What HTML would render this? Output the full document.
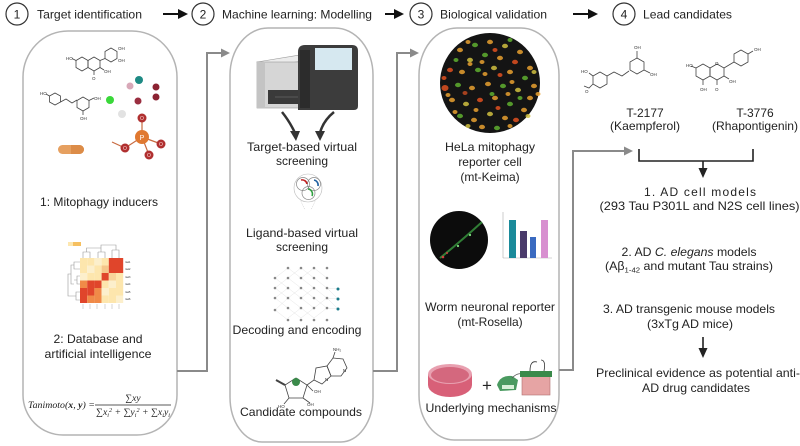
<!DOCTYPE html>
<html>
<head>
<meta charset="utf-8">
<style>
html,body{margin:0;padding:0;background:#fff;}
svg{display:block;}
text{font-family:"Liberation Sans",Arial,sans-serif;fill:#222;}
.t{font-size:12px;}
.sm{font-size:4.5px;fill:#333;}
.mol{fill:none;stroke:#444;stroke-width:0.8;}
</style>
</head>
<body>
<svg width="800" height="446" viewBox="0 0 800 446" xmlns="http://www.w3.org/2000/svg">
<rect width="800" height="446" fill="#fff"/>

<!-- ===== Header ===== -->
<g stroke="#333" stroke-width="1.2" fill="none">
  <circle cx="17" cy="14" r="11"/>
  <circle cx="203" cy="14" r="11"/>
  <circle cx="421" cy="14" r="11"/>
  <circle cx="624" cy="14" r="11"/>
</g>
<text x="17" y="18.5" class="t" text-anchor="middle">1</text>
<text x="203" y="18.5" class="t" text-anchor="middle">2</text>
<text x="421" y="18.5" class="t" text-anchor="middle">3</text>
<text x="624" y="18.5" class="t" text-anchor="middle">4</text>
<text x="37" y="18.5" class="t" textLength="105" lengthAdjust="spacingAndGlyphs">Target identification</text>
<text x="222" y="18.5" class="t" textLength="150" lengthAdjust="spacingAndGlyphs">Machine learning: Modelling</text>
<text x="440" y="18.5" class="t" textLength="107" lengthAdjust="spacingAndGlyphs">Biological validation</text>
<text x="643" y="18.5" class="t" textLength="89" lengthAdjust="spacingAndGlyphs">Lead candidates</text>
<g stroke="#111" stroke-width="2">
  <line x1="163" y1="14" x2="180" y2="14"/>
  <line x1="385" y1="14" x2="396" y2="14"/>
  <line x1="573" y1="14" x2="590" y2="14"/>
</g>
<g fill="#111">
  <polygon points="178,9 188,14 178,19"/>
  <polygon points="394,9 404,14 394,19"/>
  <polygon points="588,9 598,14 588,19"/>
</g>

<!-- ===== Column outlines ===== -->
<g fill="none" stroke="#b4b4b4" stroke-width="1.5">
  <path d="M23,77 A45,46 0 0 1 68,31 L132,31 A45,46 0 0 1 177,77 L177,395 A40,40 0 0 1 137,435 L63,435 A40,40 0 0 1 23,395 Z"/>
  <path d="M230,75 A38,47 0 0 1 268,28 L335,28 A38,47 0 0 1 373,75 L373,397 A32,45 0 0 1 341,442 L262,442 A32,45 0 0 1 230,397 Z"/>
  <path d="M419,75 A38,47 0 0 1 457,28 L521,28 A38,47 0 0 1 559,75 L559,395 A35,45 0 0 1 524,440 L454,440 A35,45 0 0 1 419,395 Z"/>
</g>

<!-- ===== Connectors ===== -->
<g fill="none" stroke="#8a8a8a" stroke-width="2">
  <path d="M177,371 H207 V53 H222"/>
  <path d="M373,371 H397 V53 H411"/>
  <path d="M559,370 H573 V151 H625"/>
</g>
<g fill="#8a8a8a">
  <polygon points="221,48.5 230,53 221,57.5"/>
  <polygon points="410,48.5 419,53 410,57.5"/>
  <polygon points="624,146.5 633,151 624,155.5"/>
</g>

<!-- ===== Column 1 ===== -->
<g class="mol">
  <polygon points="82,57 88,60.5 88,67.5 82,71 76,67.5 76,60.5"/>
  <polygon points="94,57 100,60.5 100,67.5 94,71 88,67.5 88,60.5"/>
  <polygon points="111,48 117,51.5 117,58.5 111,62 105,58.5 105,51.5"/>
  <line x1="100" y1="60.5" x2="105" y2="58.5"/>
  <line x1="94" y1="71" x2="94" y2="75"/>
  <line x1="100" y1="67.5" x2="104" y2="70"/>
  <line x1="76" y1="60.5" x2="72" y2="58.5"/>
</g>
<text x="66" y="60" class="sm">HO</text>
<text x="118" y="50" class="sm">OH</text>
<text x="118" y="62" class="sm">OH</text>
<text x="104" y="73" class="sm">OH</text>
<text x="92" y="80" class="sm">O</text>
<g class="mol">
  <polygon points="55,93 60.5,96 60.5,102 55,105 49.5,102 49.5,96"/>
  <polyline points="60.5,102 66,99 72,103 77,100"/>
  <polygon points="83,97 89,100.5 89,107.5 83,111 77,107.5 77,100.5"/>
  <line x1="89" y1="100.5" x2="94" y2="98"/>
  <line x1="83" y1="111" x2="83" y2="115"/>
  <line x1="49.5" y1="96" x2="46" y2="94"/>
</g>
<text x="40" y="95" class="sm">HO</text>
<text x="94" y="100" class="sm">OH</text>
<text x="80" y="120" class="sm">OH</text>
<g stroke="#c86a40" stroke-width="1.2">
  <line x1="142" y1="137" x2="142" y2="118"/>
  <line x1="142" y1="137" x2="161" y2="144"/>
  <line x1="142" y1="137" x2="149" y2="155"/>
  <line x1="142" y1="137" x2="125" y2="148"/>
  <line x1="125" y1="148" x2="112" y2="142"/>
</g>
<circle cx="139" cy="80" r="4" fill="#1e8a84"/>
<circle cx="130" cy="86" r="3.5" fill="#d8a8b8"/>
<circle cx="156" cy="87" r="3.5" fill="#8b2232"/>
<circle cx="156" cy="97" r="3.5" fill="#8b2232"/>
<circle cx="138" cy="101" r="3.5" fill="#9a2e40"/>
<circle cx="110" cy="100" r="4" fill="#3ad83a"/>
<circle cx="122" cy="114" r="4" fill="#e2e2e2"/>
<circle cx="142" cy="118" r="4.5" fill="#b03030"/>
<circle cx="142" cy="137" r="7" fill="#e07830"/>
<circle cx="161" cy="144" r="4.5" fill="#b03030"/>
<circle cx="149" cy="155" r="4.5" fill="#b03030"/>
<circle cx="125" cy="148" r="4.5" fill="#b03030"/>
<text x="142" y="140" font-size="7" text-anchor="middle" style="fill:#fff">P</text>
<text x="142" y="120" font-size="5" text-anchor="middle" style="fill:#fdd">O</text>
<text x="161" y="146" font-size="5" text-anchor="middle" style="fill:#fdd">O</text>
<text x="149" y="157" font-size="5" text-anchor="middle" style="fill:#fdd">O</text>
<text x="125" y="150" font-size="5" text-anchor="middle" style="fill:#fdd">O</text>
<rect x="58" y="145" width="26" height="9" rx="4.5" fill="#e6a060"/>
<rect x="71" y="145" width="13" height="9" rx="4.5" fill="#dc8c48"/>
<rect x="71" y="145" width="4" height="9" fill="#dc8c48"/>
<text x="99" y="206" class="t" text-anchor="middle" textLength="118" lengthAdjust="spacingAndGlyphs">1: Mitophagy inducers</text>

<!-- heatmap -->
<rect x="68" y="242" width="13" height="4" fill="#f6c060"/>
<rect x="68" y="242" width="5" height="4" fill="#fde7b0"/>
<g fill="none" stroke="#999" stroke-width="0.6">
  <path d="M83,258 V252 H90 V258 M86.5,252 V248 H101 V252 M98,252 V258 M98,252 H105 V258 M101,248 V245 H116 V250 M112,250 V258 M112,250 H119 V258"/>
  <path d="M80,262 H74 V269 H80 M74,265 H71 V284 H74 M74,280 H77 V276 H80 M77,280 V284 H80 M71,274 H68 V296 H71 M71,296 H76 V292 H80 M76,296 V300 H80"/>
</g>
<g>
  <rect x="80" y="258" width="7.2" height="7.5" fill="#fde6ad"/><rect x="87.2" y="258" width="7.2" height="7.5" fill="#fde6ad"/><rect x="94.4" y="258" width="7.2" height="7.5" fill="#fcefcc"/><rect x="101.6" y="258" width="7.2" height="7.5" fill="#fde6ad"/><rect x="108.8" y="258" width="7.2" height="7.5" fill="#e0452b"/><rect x="116" y="258" width="7.2" height="7.5" fill="#e0452b"/>
  <rect x="80" y="265.5" width="7.2" height="7.5" fill="#fde6ad"/><rect x="87.2" y="265.5" width="7.2" height="7.5" fill="#fcefcc"/><rect x="94.4" y="265.5" width="7.2" height="7.5" fill="#fde6ad"/><rect x="101.6" y="265.5" width="7.2" height="7.5" fill="#f5c68a"/><rect x="108.8" y="265.5" width="7.2" height="7.5" fill="#e0452b"/><rect x="116" y="265.5" width="7.2" height="7.5" fill="#e0452b"/>
  <rect x="80" y="273" width="7.2" height="7.5" fill="#fcefcc"/><rect x="87.2" y="273" width="7.2" height="7.5" fill="#fde6ad"/><rect x="94.4" y="273" width="7.2" height="7.5" fill="#fde6ad"/><rect x="101.6" y="273" width="7.2" height="7.5" fill="#e0452b"/><rect x="108.8" y="273" width="7.2" height="7.5" fill="#f8d49a"/><rect x="116" y="273" width="7.2" height="7.5" fill="#fde6ad"/>
  <rect x="80" y="280.5" width="7.2" height="7.5" fill="#f08a48"/><rect x="87.2" y="280.5" width="7.2" height="7.5" fill="#e0452b"/><rect x="94.4" y="280.5" width="7.2" height="7.5" fill="#e0452b"/><rect x="101.6" y="280.5" width="7.2" height="7.5" fill="#fde6ad"/><rect x="108.8" y="280.5" width="7.2" height="7.5" fill="#fcefcc"/><rect x="116" y="280.5" width="7.2" height="7.5" fill="#fde6ad"/>
  <rect x="80" y="288" width="7.2" height="7.5" fill="#e0452b"/><rect x="87.2" y="288" width="7.2" height="7.5" fill="#e0452b"/><rect x="94.4" y="288" width="7.2" height="7.5" fill="#f08a48"/><rect x="101.6" y="288" width="7.2" height="7.5" fill="#fcefcc"/><rect x="108.8" y="288" width="7.2" height="7.5" fill="#fde6ad"/><rect x="116" y="288" width="7.2" height="7.5" fill="#fde6ad"/>
  <rect x="80" y="295.5" width="7.2" height="7.5" fill="#e0452b"/><rect x="87.2" y="295.5" width="7.2" height="7.5" fill="#f08a48"/><rect x="94.4" y="295.5" width="7.2" height="7.5" fill="#f08a48"/><rect x="101.6" y="295.5" width="7.2" height="7.5" fill="#fde6ad"/><rect x="108.8" y="295.5" width="7.2" height="7.5" fill="#fde6ad"/><rect x="116" y="295.5" width="7.2" height="7.5" fill="#fcefcc"/>
</g>
<g fill="#aaa" font-size="2.5">
  <text x="125" y="263">row1</text><text x="125" y="270">row2</text><text x="125" y="278">row3</text>
  <text x="125" y="285">row4</text><text x="125" y="293">row5</text><text x="125" y="300">row6</text>
</g>
<g stroke="#aaa" stroke-width="0.5">
  <line x1="83" y1="304" x2="83" y2="309"/><line x1="90" y1="304" x2="90" y2="309"/><line x1="97" y1="304" x2="97" y2="309"/>
  <line x1="105" y1="304" x2="105" y2="309"/><line x1="112" y1="304" x2="112" y2="309"/><line x1="119" y1="304" x2="119" y2="309"/>
</g>
<text x="98" y="343" class="t" text-anchor="middle" textLength="89" lengthAdjust="spacingAndGlyphs">2: Database and</text>
<text x="98" y="358" class="t" text-anchor="middle" textLength="107" lengthAdjust="spacingAndGlyphs">artificial intelligence</text>

<!-- formula -->
<g font-style="italic" font-size="9.5">
  <text x="28" y="408" style="font-family:'Liberation Serif',serif" textLength="67" lengthAdjust="spacingAndGlyphs">Tanimoto(<tspan font-weight="bold">x</tspan>, <tspan font-weight="bold">y</tspan>) =</text>
  <text x="133" y="401" text-anchor="middle" style="font-family:'Liberation Serif',serif">∑<tspan>xy</tspan></text>
  <text x="96" y="415" style="font-family:'Liberation Serif',serif" textLength="74" lengthAdjust="spacingAndGlyphs">∑x<tspan font-size="6" dy="2">i</tspan><tspan font-size="6" dy="-5">2</tspan><tspan dy="3"> + ∑y</tspan><tspan font-size="6" dy="2">i</tspan><tspan font-size="6" dy="-5">2</tspan><tspan dy="3"> + ∑x</tspan><tspan font-size="6" dy="2">i</tspan><tspan dy="-2">y</tspan><tspan font-size="6" dy="2">i</tspan></text>
</g>
<line x1="95" y1="405" x2="171" y2="405" stroke="#222" stroke-width="0.8"/>

<!-- ===== Column 2 ===== -->
<polygon points="257,62 300,55 308,60 265,67" fill="#ececec" stroke="#999" stroke-width="0.6"/>
<rect x="257" y="62" width="50" height="46" fill="#d6d6d6" stroke="#999" stroke-width="0.6"/>
<rect x="257" y="62" width="8" height="46" fill="#c4c4c4"/>
<rect x="268" y="90" width="40" height="14" fill="#3a3a3a"/>
<line x1="275" y1="97" x2="300" y2="97" stroke="#666" stroke-width="0.8"/>
<path d="M298,52 Q298,45 305,45 L352,45 Q358,45 358,51 L358,106 Q358,110 354,110 L298,110 Z" fill="#3c3c3c"/>
<rect x="300" y="50" width="10" height="58" fill="#2c2c2c"/>
<rect x="315" y="48" width="37" height="22" fill="#d6e8f0"/>
<g fill="none" stroke="#333" stroke-width="2.5">
  <path d="M282,112 Q290,122 295,133"/>
  <path d="M334,112 Q323,121 320,133"/>
</g>
<polygon points="290,131 300,131 296,141" fill="#333"/>
<polygon points="315,131 325,131 320,141" fill="#333"/>
<text x="302" y="151" class="t" text-anchor="middle" textLength="110" lengthAdjust="spacingAndGlyphs">Target-based virtual</text>
<text x="302" y="165" class="t" text-anchor="middle">screening</text>
<circle cx="308" cy="188" r="14" fill="none" stroke="#bbb" stroke-width="0.6"/>
<g fill="none" stroke-width="0.7" stroke="#888">
  <circle cx="303" cy="184" r="6.5"/>
  <circle cx="314" cy="184" r="6.5"/>
  <circle cx="308.5" cy="193" r="6.5"/>
</g>
<path d="M301,180 A5,5 0 0 1 307,184" fill="none" stroke="#c02020" stroke-width="1.6"/>
<path d="M314,180 A5,5 0 0 1 318,186" fill="none" stroke="#2060a0" stroke-width="1.6"/>
<path d="M308,189 A5,5 0 0 1 312,196" fill="none" stroke="#30a040" stroke-width="1.6"/>
<path d="M300,199 L305,210 M316,199 L311,210" stroke="#bbb" stroke-width="0.5" stroke-dasharray="1,1"/>
<text x="302" y="237" class="t" text-anchor="middle" textLength="112" lengthAdjust="spacingAndGlyphs">Ligand-based virtual</text>
<text x="302" y="251" class="t" text-anchor="middle">screening</text>
<g stroke="#ddd" stroke-width="0.4">
  <path d="M275,278 L288,268 M275,278 L288,288 M275,288 L288,278 M275,288 L288,298 M275,298 L288,288 M275,298 L288,308 M275,310 L288,298 M275,310 L288,320"/>
  <path d="M288,268 L301,278 M288,278 L301,268 M288,288 L301,298 M288,298 L301,288 M288,308 L301,318 M288,318 L301,308 M288,278 L301,288 M288,298 L301,308"/>
  <path d="M301,268 L314,278 M301,278 L314,268 M301,288 L314,298 M301,298 L314,288 M301,308 L314,318 M301,318 L314,308 M301,278 L314,288 M301,298 L314,308"/>
  <path d="M314,278 L327,288 M314,288 L327,298 M314,298 L327,308 M314,308 L327,298 M314,268 L327,278 M314,318 L327,308"/>
  <path d="M327,288 L338,289 M327,298 L338,299 M327,308 L338,309 M327,288 L338,299 M327,298 L338,309"/>
</g>
<g fill="#888">
  <circle cx="275" cy="278" r="1.3"/><circle cx="275" cy="288" r="1.3"/><circle cx="275" cy="298" r="1.3"/><circle cx="275" cy="310" r="1.3"/>
  <circle cx="288" cy="268" r="1.3"/><circle cx="288" cy="278" r="1.3"/><circle cx="288" cy="288" r="1.3"/><circle cx="288" cy="298" r="1.3"/><circle cx="288" cy="308" r="1.3"/><circle cx="288" cy="320" r="1.3"/>
  <circle cx="301" cy="268" r="1.3"/><circle cx="301" cy="278" r="1.3"/><circle cx="301" cy="288" r="1.3"/><circle cx="301" cy="298" r="1.3"/><circle cx="301" cy="308" r="1.3"/><circle cx="301" cy="320" r="1.3"/>
  <circle cx="314" cy="268" r="1.3"/><circle cx="314" cy="278" r="1.3"/><circle cx="314" cy="288" r="1.3"/><circle cx="314" cy="298" r="1.3"/><circle cx="314" cy="308" r="1.3"/><circle cx="314" cy="320" r="1.3"/>
  <circle cx="327" cy="268" r="1.3"/><circle cx="327" cy="278" r="1.3"/><circle cx="327" cy="288" r="1.3"/><circle cx="327" cy="298" r="1.3"/><circle cx="327" cy="308" r="1.3"/><circle cx="327" cy="320" r="1.3"/>
</g>
<g fill="#1a7a8a">
  <circle cx="338" cy="289" r="1.5"/><circle cx="338" cy="299" r="1.5"/><circle cx="338" cy="309" r="1.5"/>
</g>
<text x="297" y="334" class="t" text-anchor="middle" textLength="129" lengthAdjust="spacingAndGlyphs">Decoding and encoding</text>
<g class="mol" stroke-width="0.9">
  <polygon points="296,378 307,385 303,398 289,398 285,385"/>
  <line x1="285" y1="385" x2="276" y2="380" stroke-width="2"/>
  <line x1="307" y1="385" x2="314" y2="380"/>
  <polygon points="314,380 316,368 327,366 331,376 322,384"/>
  <polygon points="327,366 333,358 343,359 347,368 341,376 331,376"/>
  <line x1="333" y1="358" x2="335" y2="352"/>
  <line x1="303" y1="398" x2="310" y2="403"/>
  <line x1="289" y1="398" x2="284" y2="404"/>
  <line x1="307" y1="385" x2="313" y2="391"/>
</g>
<circle cx="296" cy="382" r="4" fill="#3a8a4a"/>
<text x="333" y="351" class="sm">NH₂</text>
<text x="314" y="393" class="sm">OH</text>
<text x="278" y="408" class="sm">HO</text>
<text x="307" y="406" class="sm">OH</text>
<text x="343" y="372" class="sm">N</text>
<text x="325" y="381" class="sm">N</text>
<text x="301" y="416" class="t" text-anchor="middle" textLength="122" lengthAdjust="spacingAndGlyphs">Candidate compounds</text>

<!-- ===== Column 3 ===== -->
<circle cx="490" cy="83" r="50" fill="#141414"/>
<g opacity="0.85">
  <ellipse cx="460" cy="50" rx="3" ry="2.2" fill="#e8a030"/><ellipse cx="475" cy="45" rx="3" ry="2.2" fill="#60b030"/><ellipse cx="490" cy="42" rx="3" ry="2.2" fill="#e8a030"/><ellipse cx="505" cy="46" rx="3" ry="2.2" fill="#d0c040"/><ellipse cx="520" cy="52" rx="3" ry="2.2" fill="#e8a030"/>
  <ellipse cx="470" cy="60" rx="3" ry="2.2" fill="#d0c040"/><ellipse cx="485" cy="55" rx="3" ry="2.2" fill="#60b030"/><ellipse cx="500" cy="58" rx="3" ry="2.2" fill="#e8a030"/><ellipse cx="515" cy="62" rx="3" ry="2.2" fill="#e05020"/><ellipse cx="530" cy="68" rx="3" ry="2.2" fill="#e8a030"/>
  <ellipse cx="450" cy="70" rx="3" ry="2.2" fill="#e05020"/><ellipse cx="462" cy="72" rx="3" ry="2.2" fill="#e8a030"/><ellipse cx="478" cy="70" rx="3" ry="2.2" fill="#60b030"/><ellipse cx="494" cy="68" rx="3" ry="2.2" fill="#d0c040"/><ellipse cx="510" cy="72" rx="3" ry="2.2" fill="#e8a030"/>
  <ellipse cx="525" cy="78" rx="3" ry="2.2" fill="#60b030"/><ellipse cx="534" cy="86" rx="3" ry="2.2" fill="#e8a030"/><ellipse cx="445" cy="88" rx="3.5" ry="3" fill="#e05020"/><ellipse cx="458" cy="85" rx="3" ry="2.2" fill="#60b030"/><ellipse cx="472" cy="88" rx="3" ry="2.2" fill="#e8a030"/>
  <ellipse cx="488" cy="84" rx="3" ry="2.2" fill="#e8a030"/><ellipse cx="503" cy="86" rx="3" ry="2.2" fill="#60b030"/><ellipse cx="518" cy="90" rx="3" ry="2.2" fill="#d0c040"/><ellipse cx="530" cy="98" rx="3" ry="2.2" fill="#e8a030"/><ellipse cx="452" cy="100" rx="3" ry="2.2" fill="#e8a030"/>
  <ellipse cx="466" cy="104" rx="3" ry="2.2" fill="#d0c040"/><ellipse cx="480" cy="100" rx="3" ry="2.2" fill="#e05020"/><ellipse cx="495" cy="98" rx="3" ry="2.2" fill="#e8a030"/><ellipse cx="510" cy="104" rx="3" ry="2.2" fill="#60b030"/><ellipse cx="524" cy="110" rx="3" ry="2.2" fill="#e8a030"/>
  <ellipse cx="460" cy="116" rx="3" ry="2.2" fill="#60b030"/><ellipse cx="474" cy="120" rx="3" ry="2.2" fill="#e8a030"/><ellipse cx="490" cy="114" rx="3" ry="2.2" fill="#d0c040"/><ellipse cx="505" cy="118" rx="3" ry="2.2" fill="#e8a030"/><ellipse cx="516" cy="120" rx="3" ry="2.2" fill="#e05020"/>
  <ellipse cx="482" cy="127" rx="3" ry="2.2" fill="#e8a030"/><ellipse cx="497" cy="128" rx="3" ry="2.2" fill="#60b030"/><ellipse cx="470" cy="64" rx="2.5" ry="2" fill="#e8a030"/><ellipse cx="500" cy="75" rx="2.5" ry="2" fill="#e05020"/><ellipse cx="455" cy="112" rx="2.5" ry="2" fill="#e8a030"/>
  <ellipse cx="444" cy="78" rx="2.5" ry="2" fill="#e05020"/><ellipse cx="534" cy="72" rx="2.5" ry="2" fill="#d0c040"/><ellipse cx="510" cy="40" rx="2.5" ry="2" fill="#60b030"/><ellipse cx="468" cy="42" rx="2.5" ry="2" fill="#e8a030"/><ellipse cx="485" cy="74" rx="2.5" ry="2" fill="#e8a030"/>
  <ellipse cx="528" cy="116" rx="2.5" ry="2" fill="#d0c040"/><ellipse cx="448" cy="95" rx="2.5" ry="2" fill="#e8a030"/><ellipse cx="492" cy="94" rx="2.5" ry="2" fill="#60b030"/><ellipse cx="476" cy="110" rx="2.5" ry="2" fill="#e8a030"/><ellipse cx="508" cy="94" rx="2.5" ry="2" fill="#e8a030"/>
  <ellipse cx="465" cy="93" rx="2.5" ry="2" fill="#c04a20"/><ellipse cx="482" cy="62" rx="2.5" ry="2" fill="#e8a030"/><ellipse cx="520" cy="98" rx="2.5" ry="2" fill="#60b030"/><ellipse cx="498" cy="108" rx="2.5" ry="2" fill="#e05020"/><ellipse cx="512" cy="82" rx="2.5" ry="2" fill="#e8a030"/>
  <ellipse cx="456" cy="60" rx="2.5" ry="2" fill="#60b030"/><ellipse cx="495" cy="50" rx="2.5" ry="2" fill="#e05020"/><ellipse cx="538" cy="94" rx="2.5" ry="2" fill="#e8a030"/><ellipse cx="468" cy="126" rx="2.5" ry="2" fill="#d0c040"/><ellipse cx="510" cy="126" rx="2.5" ry="2" fill="#e8a030"/>
</g>
<text x="490" y="151" class="t" text-anchor="middle" textLength="90" lengthAdjust="spacingAndGlyphs">HeLa mitophagy</text>
<text x="490" y="166" class="t" text-anchor="middle">reporter cell</text>
<text x="490" y="181" class="t" text-anchor="middle">(mt-Keima)</text>
<circle cx="459" cy="240" r="29" fill="#0c0c0c"/>
<path d="M440,258 Q460,242 482,222" fill="none" stroke="#3a9a40" stroke-width="2" opacity="0.8"/>
<circle cx="443" cy="257" r="1.3" fill="#d04040"/>
<circle cx="458" cy="246" r="1.1" fill="#80e080"/>
<circle cx="470" cy="235" r="1.1" fill="#80e080"/>
<circle cx="447" cy="253" r="1" fill="#d04040"/>
<g stroke="#aaa" stroke-width="0.6">
  <line x1="503" y1="212" x2="503" y2="258"/>
  <line x1="503" y1="258" x2="552" y2="258"/>
</g>
<rect x="509" y="220" width="7" height="38" fill="#1a8a9a"/>
<rect x="520" y="231" width="7" height="27" fill="#4a3a6a"/>
<rect x="530" y="237" width="6" height="21" fill="#3a6ac0"/>
<rect x="541" y="220" width="7" height="38" fill="#d890d0"/>
<text x="490" y="311" class="t" text-anchor="middle" textLength="130" lengthAdjust="spacingAndGlyphs">Worm neuronal reporter</text>
<text x="490" y="326" class="t" text-anchor="middle">(mt-Rosella)</text>
<ellipse cx="450" cy="385" rx="22" ry="12" fill="#d86078"/>
<rect x="428" y="374" width="44" height="11" fill="#d86078"/>
<ellipse cx="450" cy="374" rx="22" ry="10" fill="#e8a0b0"/>
<ellipse cx="450" cy="375" rx="19" ry="8" fill="#d4687e"/>
<text x="487" y="391" font-size="17" text-anchor="middle">+</text>
<path d="M497,385 Q500,375 512,376 L518,380 L516,390 L500,391 Z" fill="#4a9a60"/>
<rect x="502" y="385" width="12" height="4" fill="#d8f0d8"/>
<path d="M512,378 Q520,370 525,377" fill="none" stroke="#555" stroke-width="0.8"/>
<rect x="522" y="376" width="28" height="19" fill="#e6a4a4" stroke="#b07070" stroke-width="0.6"/>
<rect x="520" y="371" width="32" height="6" fill="#3a8a4a"/>
<path d="M530,371 Q530,360 537,362 M544,371 Q546,360 541,360" fill="none" stroke="#333" stroke-width="0.8"/>
<text x="491" y="412" class="t" text-anchor="middle" textLength="131" lengthAdjust="spacingAndGlyphs">Underlying mechanisms</text>

<!-- ===== Column 4 ===== -->
<g class="mol">
  <polygon points="600,72 607,76 607,84 600,88 593,84 593,76"/>
  <polyline points="607,76 614,72 622,76 629,71"/>
  <polygon points="637,58 644,62 644,70 637,74 630,70 630,62"/>
  <line x1="637" y1="58" x2="637" y2="51"/>
  <line x1="644" y1="70" x2="650" y2="73"/>
  <line x1="593" y1="76" x2="589" y2="73"/>
  <polyline points="593,84 589,88 584,86"/>
</g>
<text x="581" y="73" class="sm">HO</text>
<text x="585" y="93" class="sm">O</text>
<text x="634" y="49" class="sm">OH</text>
<text x="650" y="76" class="sm">OH</text>
<g class="mol">
  <polygon points="703,64 710,68 710,76 703,80 696,76 696,68"/>
  <polygon points="717,64 724,68 724,76 717,80 710,76 710,68"/>
  <polygon points="741,50 748,54 748,62 741,66 734,62 734,54"/>
  <line x1="724" y1="68" x2="734" y2="62"/>
  <line x1="748" y1="54" x2="753" y2="51"/>
  <line x1="696" y1="68" x2="691" y2="66"/>
  <line x1="703" y1="80" x2="703" y2="85"/>
  <line x1="717" y1="80" x2="717" y2="85"/>
  <line x1="724" y1="76" x2="729" y2="79"/>
</g>
<text x="686" y="67" class="sm">HO</text>
<text x="715" y="65" class="sm">O</text>
<text x="754" y="51" class="sm">OH</text>
<text x="729" y="83" class="sm">OH</text>
<text x="700" y="91" class="sm">OH</text>
<text x="715" y="91" class="sm">O</text>
<text x="645" y="117" class="t" text-anchor="middle">T-2177</text>
<text x="645" y="130" class="t" text-anchor="middle" textLength="70" lengthAdjust="spacingAndGlyphs">(Kaempferol)</text>
<text x="755" y="117" class="t" text-anchor="middle">T-3776</text>
<text x="755" y="130" class="t" text-anchor="middle" textLength="86" lengthAdjust="spacingAndGlyphs">(Rhapontigenin)</text>
<g stroke="#222" stroke-width="1.6" fill="none">
  <path d="M639,149 V161 H753 V149"/>
  <line x1="703" y1="161" x2="703" y2="170"/>
  <line x1="703" y1="337" x2="703" y2="350"/>
</g>
<polygon points="698.5,168 707.5,168 703,178" fill="#222"/>
<polygon points="698.5,348 707.5,348 703,358" fill="#222"/>
<text x="700" y="196" class="t" text-anchor="middle" textLength="112" lengthAdjust="spacing">1. AD cell models</text>
<text x="699.5" y="210" class="t" text-anchor="middle" textLength="200" lengthAdjust="spacingAndGlyphs">(293 Tau P301L and N2S cell lines)</text>
<text x="689" y="256" class="t" text-anchor="middle" textLength="135" lengthAdjust="spacingAndGlyphs">2. AD <tspan font-style="italic">C. elegans</tspan> models</text>
<text x="689" y="270" class="t" text-anchor="middle" textLength="168" lengthAdjust="spacingAndGlyphs">(Aβ<tspan font-size="7.5" dy="2.5">1-42</tspan><tspan dy="-2.5"> and mutant Tau strains)</tspan></text>
<text x="689" y="313" class="t" text-anchor="middle" textLength="172" lengthAdjust="spacingAndGlyphs">3. AD transgenic mouse models</text>
<text x="690" y="328" class="t" text-anchor="middle" textLength="86" lengthAdjust="spacingAndGlyphs">(3xTg AD mice)</text>
<text x="698" y="377" class="t" text-anchor="middle" textLength="204" lengthAdjust="spacingAndGlyphs">Preclinical evidence as potential anti-</text>
<text x="696" y="392" class="t" text-anchor="middle" textLength="108" lengthAdjust="spacingAndGlyphs">AD drug candidates</text>
</svg>
</body>
</html>
